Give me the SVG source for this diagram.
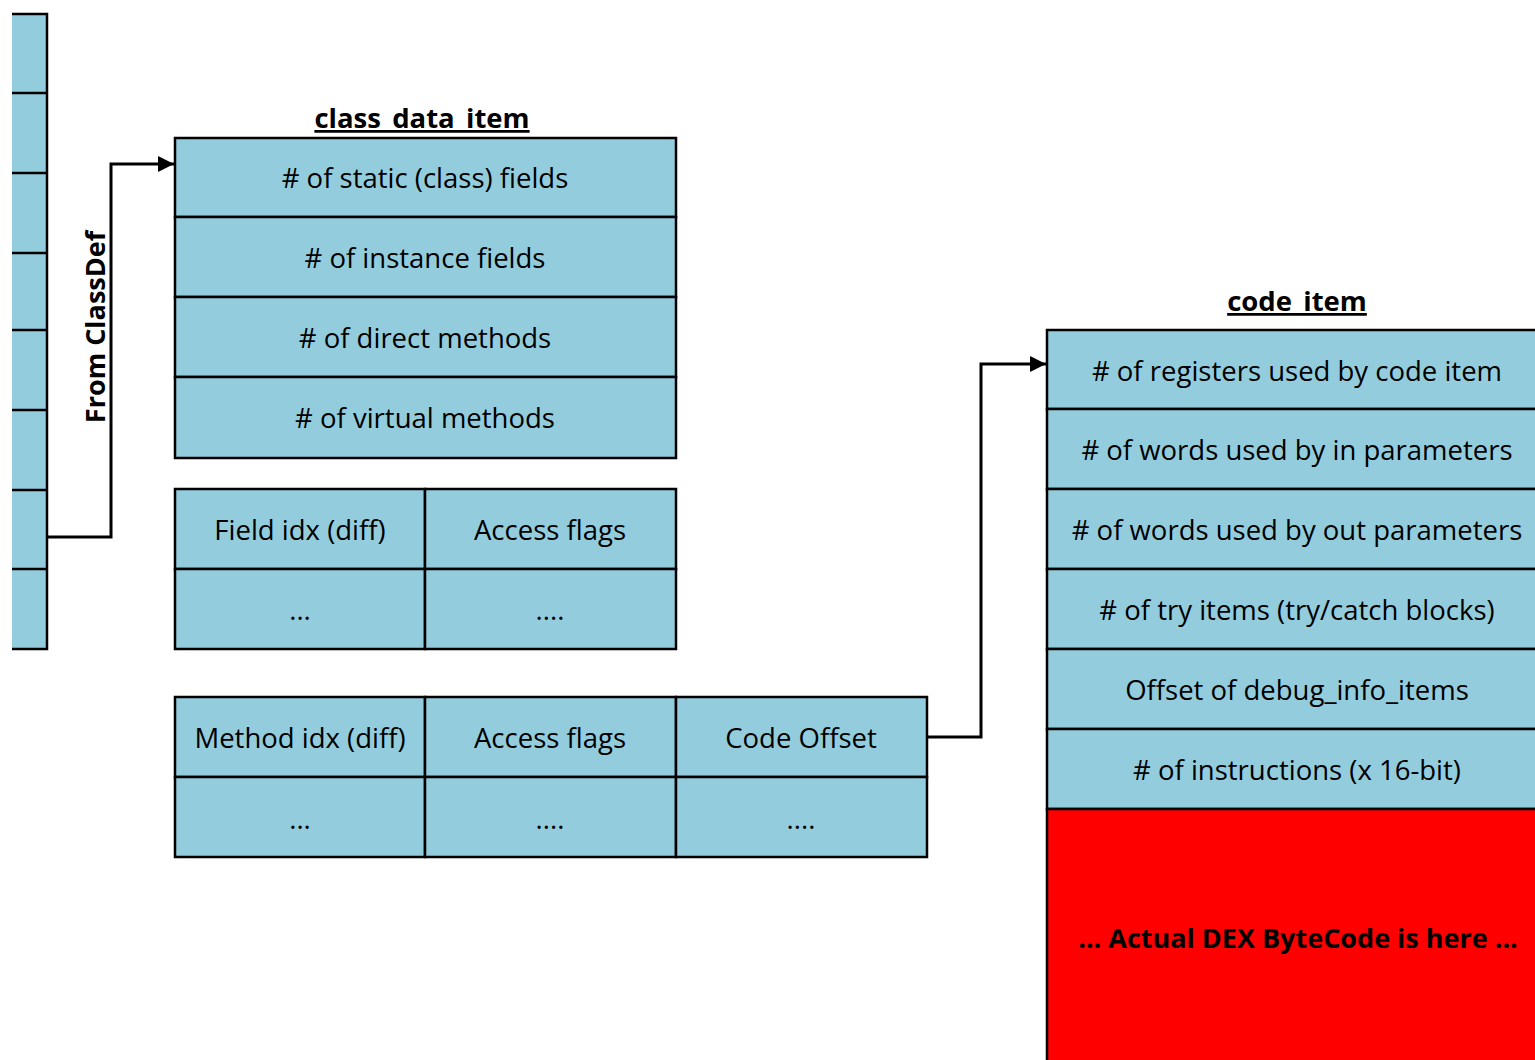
<svg xmlns="http://www.w3.org/2000/svg" width="1535" height="1060" viewBox="0 0 1535 1060">
<style>
.c{fill:#93CDDD;stroke:#000;stroke-width:2.5}
.r{fill:#FF0000;stroke:#000;stroke-width:2.5}
.t{font-family:"Open Sans","Liberation Sans",sans-serif;font-size:27.5px;fill:#000;text-anchor:middle}
.b{font-family:"Open Sans","Liberation Sans",sans-serif;font-size:27px;font-weight:bold;fill:#000;text-anchor:middle}
.u{text-decoration:underline}
.l{fill:none;stroke:#000;stroke-width:3}
</style>
<defs>
<marker id="ah2" viewBox="0 0 16 16" refX="16" refY="8" markerWidth="16" markerHeight="16" orient="auto" markerUnits="userSpaceOnUse">
<path d="M0,0 L16,8 L0,16 z" fill="#000"/>
</marker>
</defs>
<rect width="1535" height="1060" fill="#fff"/>

<g id="classdef-column">
<rect x="12" y="14" width="35" height="635" fill="#93CDDD"/>
<path d="M12,14 H47 V649 H12 M12,93 H47 M12,173 H47 M12,253 H47 M12,330 H47 M12,410 H47 M12,490 H47 M12,569 H47" fill="none" stroke="#000" stroke-width="2.5"/>
</g>

<g id="class_data_item">
<text class="b u" x="422" y="128" style="font-size:27.5px">class_data_item</text>
<rect class="c" x="175" y="138" width="501" height="79"/>
<rect class="c" x="175" y="217" width="501" height="80"/>
<rect class="c" x="175" y="297" width="501" height="80"/>
<rect class="c" x="175" y="377" width="501" height="81"/>
<text class="t" x="425" y="188"># of static (class) fields</text>
<text class="t" x="425" y="268"># of instance fields</text>
<text class="t" x="425" y="348"># of direct methods</text>
<text class="t" x="425" y="428"># of virtual methods</text>
</g>

<g id="field-table">
<rect class="c" x="175" y="489" width="250" height="80"/>
<rect class="c" x="425" y="489" width="251" height="80"/>
<rect class="c" x="175" y="569" width="250" height="80"/>
<rect class="c" x="425" y="569" width="251" height="80"/>
<text class="t" x="300" y="540">Field idx (diff)</text>
<text class="t" x="550" y="540">Access flags</text>
<text class="t" x="300" y="620">...</text>
<text class="t" x="550" y="620">....</text>
</g>

<g id="method-table">
<rect class="c" x="175" y="697" width="250" height="80"/>
<rect class="c" x="425" y="697" width="251" height="80"/>
<rect class="c" x="676" y="697" width="251" height="80"/>
<rect class="c" x="175" y="777" width="250" height="80"/>
<rect class="c" x="425" y="777" width="251" height="80"/>
<rect class="c" x="676" y="777" width="251" height="80"/>
<text class="t" x="300" y="748">Method idx (diff)</text>
<text class="t" x="550" y="748">Access flags</text>
<text class="t" x="801" y="748">Code Offset</text>
<text class="t" x="300" y="829">...</text>
<text class="t" x="550" y="829">....</text>
<text class="t" x="801" y="829">....</text>
</g>

<g id="code_item">
<text class="b u" x="1297" y="311" style="font-size:27.5px">code_item</text>
<rect class="c" x="1047" y="330" width="500" height="79"/>
<rect class="c" x="1047" y="409" width="500" height="80"/>
<rect class="c" x="1047" y="489" width="500" height="80"/>
<rect class="c" x="1047" y="569" width="500" height="80"/>
<rect class="c" x="1047" y="649" width="500" height="80"/>
<rect class="c" x="1047" y="729" width="500" height="80"/>
<rect class="r" x="1047" y="809" width="500" height="270"/>
<text class="t" x="1297" y="381"># of registers used by code item</text>
<text class="t" x="1297" y="460"># of words used by in parameters</text>
<text class="t" x="1297" y="540"># of words used by out parameters</text>
<text class="t" x="1297" y="620"># of try items (try/catch blocks)</text>
<text class="t" x="1297" y="700">Offset of debug_info_items</text>
<text class="t" x="1297" y="780"># of instructions (x 16-bit)</text>
<text class="b" x="1298" y="948">... Actual DEX ByteCode is here ...</text>
</g>

<g id="connectors">
<path class="l" d="M47,537 H111 V164 H174" marker-end="url(#ah2)"/>
<path class="l" d="M927,737 H981 V364 H1046" marker-end="url(#ah2)"/>
<text class="b" transform="translate(105,327) rotate(-90)">From ClassDef</text>
</g>
</svg>
